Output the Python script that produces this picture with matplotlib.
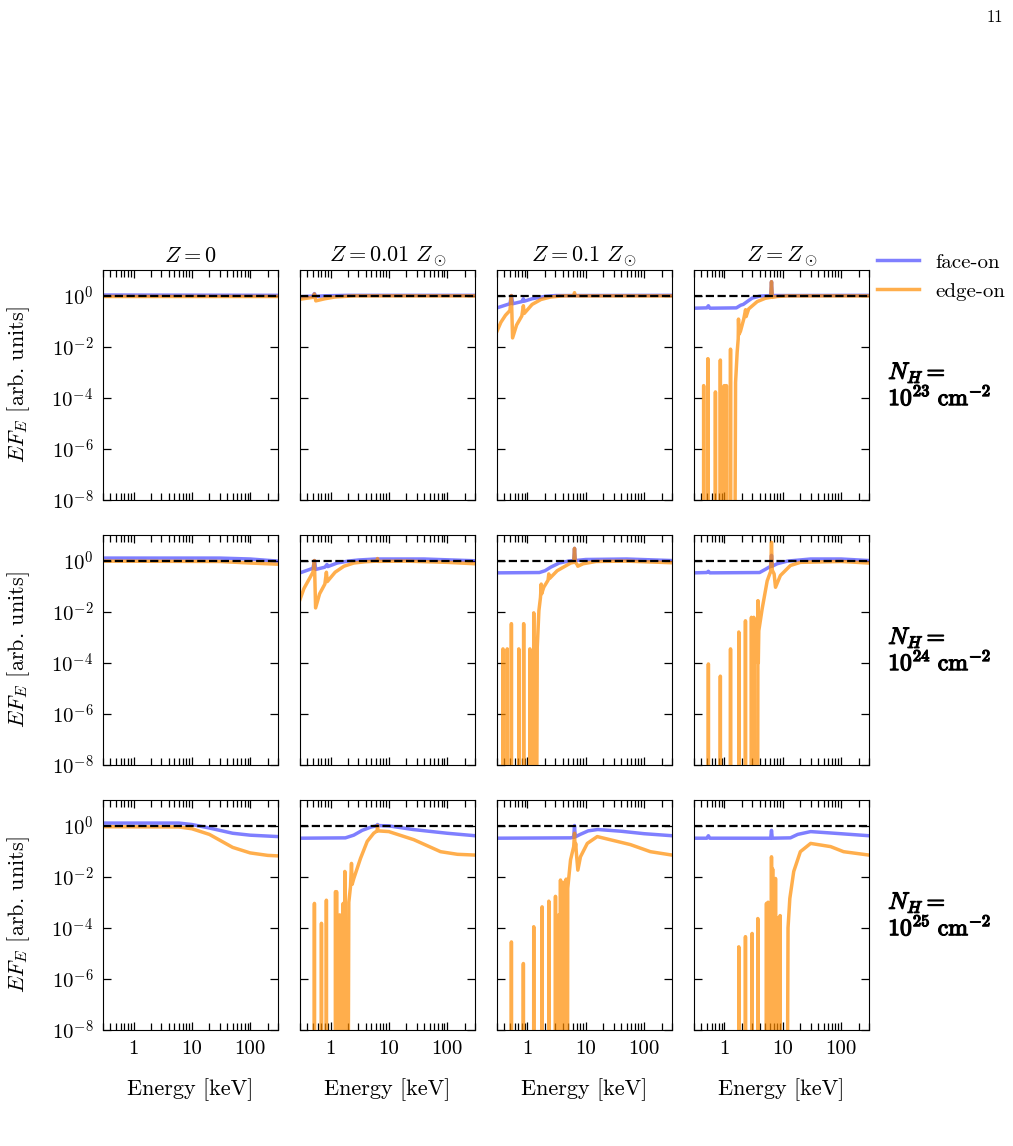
import matplotlib
matplotlib.use('Agg')  # sem janela, so salva o arquivo
import matplotlib.pyplot as plt
import matplotlib.ticker as ticker
import matplotlib.patheffects as pe
import numpy as np

plt.rcParams['font.family'] = 'serif'
plt.rcParams['font.serif'] = ['cmr10']
plt.rcParams['mathtext.fontset'] = 'cm'
plt.rcParams['axes.unicode_minus'] = False
plt.rcParams['axes.formatter.use_mathtext'] = True

# --- rotulos ---
titulos_z = [r'$Z = 0$', r'$Z = 0.01\ Z_\odot$', r'$Z = 0.1\ Z_\odot$', r'$Z = Z_\odot$']
expoentes_nh = ['23', '24', '25']
x_ticks = [1, 10, 100]
x_tick_labels = ['1', '10', '100']
y_ticks = [1e-8, 1e-6, 1e-4, 1e-2, 1e0]
y_tick_labels = [r'$10^{-8}$', r'$10^{-6}$', r'$10^{-4}$', r'$10^{-2}$', r'$10^{0}$']
FUNDO = 1e-12  # valor abaixo do eixo (linha some por baixo)

# --- dados: (energia keV, E F_E) ---
# N_H = 1e23
face_23_z0 = [(0.3, 1.05), (300, 1.02)]
edge_23_z0 = [(0.3, 0.97), (300, 0.97)]
linhas_23_z0 = []

face_23_z001 = [(0.3, 0.9), (0.5, 0.95), (0.53, 1.2), (0.56, 0.93), (0.8, 0.98), (2, 1.02), (300, 1.02)]
edge_23_z001 = [(0.3, 0.72), (0.5, 0.85), (0.53, 1.15), (0.56, 0.62), (0.8, 0.75), (1.2, 0.88),
                (2.5, 0.97), (300, 0.97)]
linhas_23_z001 = []

face_23_z01 = [(0.3, 0.33), (0.5, 0.48), (0.53, 1.0), (0.56, 0.48), (0.8, 0.58), (0.85, 0.75),
               (0.88, 0.6), (1.2, 0.75), (2, 0.93), (3, 1.0), (300, 1.02)]
edge_23_z01 = [(0.3, 0.04), (0.35, 0.09), (0.42, 0.17), (0.5, 0.26), (0.53, 1.0), (0.555, 0.022),
               (0.65, 0.07), (0.8, 0.16), (0.85, 0.4), (0.88, 0.2), (1.2, 0.45), (1.7, 0.7),
               (2.5, 0.88), (4, 0.97), (6.2, 0.98), (6.4, 1.3), (6.6, 0.97), (300, 0.97)]
linhas_23_z01 = []

face_23_z1 = [(0.3, 0.32), (0.5, 0.33), (0.53, 0.4), (0.56, 0.32), (1.6, 0.33), (1.9, 0.42),
              (2.1, 0.45), (2.5, 0.6), (3, 0.8), (4, 0.95), (6.2, 1.0), (6.4, 3.5), (6.6, 1.0),
              (300, 1.02)]
edge_23_z1 = [(1.5, FUNDO), (1.55, 4e-4), (1.65, 6e-3), (1.72, 0.02), (1.74, 0.12), (1.77, 0.03),
              (1.88, 0.04), (2.14, 0.12), (2.3, 0.28), (2.35, 0.15), (2.6, 0.3), (3.64, 0.58),
              (5, 0.78), (6.2, 0.85), (6.4, 3.5), (6.6, 0.85), (8, 0.92), (12, 0.97), (300, 0.97)]
linhas_23_z1 = [(0.44, 3e-4), (0.52, 3.4e-3), (0.70, 1.7e-4), (0.85, 3e-3), (0.99, 3e-4),
                (1.08, 3e-4), (1.27, 8e-3)]

# N_H = 1e24
face_24_z0 = [(0.3, 1.25), (30, 1.25), (100, 1.15), (300, 0.95)]
edge_24_z0 = [(0.3, 0.95), (30, 0.92), (100, 0.8), (300, 0.72)]
linhas_24_z0 = []

face_24_z001 = [(0.3, 0.33), (0.5, 0.5), (0.53, 1.0), (0.56, 0.45), (0.8, 0.55), (0.87, 0.7),
                (0.9, 0.58), (1.3, 0.8), (2, 0.95), (3, 1.05), (6, 1.15), (40, 1.15), (300, 0.98)]
edge_24_z001 = [(0.3, 0.03), (0.35, 0.08), (0.42, 0.17), (0.5, 0.35), (0.53, 1.0), (0.555, 0.014),
                (0.65, 0.05), (0.8, 0.12), (0.85, 0.35), (0.88, 0.15), (1.2, 0.35), (1.7, 0.6),
                (2.5, 0.8), (4, 0.9), (6.2, 0.95), (6.4, 1.2), (6.6, 0.93), (20, 0.95),
                (100, 0.85), (300, 0.75)]
linhas_24_z001 = []

face_24_z01 = [(0.3, 0.33), (1.6, 0.34), (2, 0.4), (2.5, 0.55), (3.5, 0.8), (5, 0.95), (6.2, 1.0),
               (6.4, 3.0), (6.6, 1.0), (10, 1.1), (50, 1.15), (300, 1.0)]
edge_24_z01 = [(1.43, FUNDO), (1.47, 4e-4), (1.57, 0.011), (1.67, 0.036), (1.72, 0.12), (1.75, 0.05),
               (1.9, 0.09), (2.25, 0.17), (2.32, 0.3), (2.4, 0.2), (3.23, 0.4), (5.5, 0.8),
               (6.2, 0.85), (6.4, 3.0), (6.6, 0.85), (7.1, 0.7), (7.3, 0.6), (9, 0.75), (15, 0.92),
               (50, 0.95), (300, 0.82)]
linhas_24_z01 = [(0.38, 3.5e-4), (0.45, 3.5e-4), (0.53, 3.4e-3), (0.71, 3.5e-4), (0.86, 3.4e-3),
                 (1.1, 3.5e-4), (1.28, 9e-3)]

face_24_z1 = [(0.3, 0.33), (0.5, 0.34), (0.53, 0.38), (0.56, 0.33), (4, 0.34), (5, 0.45),
              (6.2, 0.6), (6.4, 1.6), (6.6, 0.6), (8, 0.75), (12, 0.95), (30, 1.15), (100, 1.15),
              (300, 1.0)]
edge_24_z1 = [(3.7, FUNDO), (3.75, 0.027), (3.8, 1e-4), (3.88, 1.8e-3), (4.43, 0.013), (5.4, 0.16),
              (6.2, 0.38), (6.4, 5.2), (6.6, 0.42), (7.1, 0.3), (7.5, 0.09), (9.1, 0.26),
              (13.5, 0.64), (20, 0.85), (100, 0.92), (300, 0.8)]
linhas_24_z1 = [(0.53, 9e-5), (0.85, 3e-5), (1.27, 3.5e-4), (1.76, 1.6e-3), (2.29, 4.4e-3),
                (2.9, 6e-3), (3.18, 6e-3)]

# N_H = 1e25
face_25_z0 = [(0.3, 1.25), (6, 1.25), (10, 1.1), (20, 0.8), (50, 0.5), (100, 0.42), (300, 0.37)]
edge_25_z0 = [(0.3, 0.9), (6, 0.88), (10, 0.75), (20, 0.45), (50, 0.14), (100, 0.085),
              (200, 0.068), (300, 0.065)]
linhas_25_z0 = []

face_25_z001 = [(0.3, 0.32), (1.8, 0.33), (2.5, 0.42), (3.5, 0.65), (5, 0.88), (6.2, 0.98),
                (6.4, 1.1), (6.6, 1.0), (10, 0.97), (26, 0.7), (100, 0.5), (300, 0.4)]
edge_25_z001 = [(2.0, FUNDO), (2.06, 1e-3), (2.2, 4e-3), (2.29, 0.033), (2.35, 5e-3), (2.51, 8.5e-3),
                (3.27, 0.052), (4.26, 0.24), (5.5, 0.5), (6.3, 0.62), (6.4, 1.0), (6.5, 0.62),
                (10, 0.58), (26.8, 0.28), (77, 0.095), (150, 0.075), (300, 0.07)]
linhas_25_z001 = [(0.53, 9e-4), (0.70, 1.5e-4), (0.85, 1.2e-3), (1.22, 2.6e-3), (1.27, 2.6e-3),
                  (1.44, 3.2e-4), (1.65, 9e-4), (1.76, 0.016)]

face_25_z01 = [(0.3, 0.32), (5.5, 0.33), (6.2, 0.35), (6.4, 1.0), (6.6, 0.36), (8, 0.45),
               (11, 0.62), (16, 0.7), (40, 0.6), (100, 0.48), (300, 0.4)]
edge_25_z01 = [(4.85, FUNDO), (4.9, 3.5e-3), (5.47, 0.045), (6.2, 0.15), (6.4, 0.5), (6.55, 0.12),
               (6.7, 0.2), (6.9, 0.08), (7.3, 0.018), (8.1, 0.06), (10.6, 0.2), (15.7, 0.37),
               (58, 0.18), (128, 0.095), (300, 0.07)]
linhas_25_z01 = [(0.53, 2.8e-5), (0.85, 4e-6), (1.28, 1.1e-4), (1.78, 6.6e-4), (2.32, 1.1e-3),
                 (3.02, 1.7e-3), (3.44, 3.2e-4), (3.68, 7.4e-3), (4.1, 6e-3), (4.35, 4e-3),
                 (4.6, 8e-3)]

face_25_z1 = [(0.3, 0.32), (0.5, 0.32), (0.53, 0.4), (0.56, 0.32), (6.2, 0.32), (6.4, 0.65),
              (6.6, 0.32), (13.5, 0.33), (18, 0.45), (30, 0.58), (60, 0.52), (300, 0.4)]
edge_25_z1 = [(11.9, FUNDO), (12.3, 1e-4), (13.2, 1.4e-3), (15.4, 0.016), (20, 0.095), (30, 0.2),
              (66, 0.15), (110, 0.095), (300, 0.07)]
linhas_25_z1 = [(1.76, 1.8e-5), (2.29, 4.5e-5), (2.98, 6e-5), (3.73, 2.3e-4), (5.25, 9e-4),
                (5.6, 1e-3), (6.4, 0.06), (6.7, 0.02), (7.5, 8.5e-3), (8.2, 2.4e-4), (9.0, 3e-4)]

face_on = [[face_23_z0, face_23_z001, face_23_z01, face_23_z1],
           [face_24_z0, face_24_z001, face_24_z01, face_24_z1],
           [face_25_z0, face_25_z001, face_25_z01, face_25_z1]]
edge_on = [[edge_23_z0, edge_23_z001, edge_23_z01, edge_23_z1],
           [edge_24_z0, edge_24_z001, edge_24_z01, edge_24_z1],
           [edge_25_z0, edge_25_z001, edge_25_z01, edge_25_z1]]
linhas_edge = [[linhas_23_z0, linhas_23_z001, linhas_23_z01, linhas_23_z1],
               [linhas_24_z0, linhas_24_z001, linhas_24_z01, linhas_24_z1],
               [linhas_25_z0, linhas_25_z001, linhas_25_z01, linhas_25_z1]]


def espectro(continuo, linhas=()):
    # junta o continuo com as linhas estreitas (picos que saem do fundo)
    pts = list(continuo)
    for e, pico in linhas:
        pts += [(e * 0.996, FUNDO), (e, pico), (e * 1.004, FUNDO)]
    pts.sort()
    arr = np.array(pts)
    return arr[:, 0], arr[:, 1]


fig, axes = plt.subplots(3, 4, figsize=(10.13, 11.46), dpi=100)
fig.subplots_adjust(left=0.1017, right=0.8578, bottom=0.1012, top=0.7644, wspace=0.1257, hspace=0.152)

negrito = [pe.withStroke(linewidth=0.9, foreground='black')]  # engrossa o texto (imita negrito)

for i in range(3):
    for j in range(4):
        ax = axes[i, j]
        e, f = espectro(face_on[i][j])
        ax.plot(e, f, color='blue', alpha=0.5, lw=2.5, label='face-on')
        e, f = espectro(edge_on[i][j], linhas_edge[i][j])
        ax.plot(e, f, color='darkorange', alpha=0.7, lw=2.5, label='edge-on')
        ax.axhline(1.0, color='black', ls='--', lw=1.6)

        ax.set_xscale('log')
        ax.set_yscale('log')
        ax.set_xlim(0.3, 300)
        ax.set_ylim(1e-8, 10)
        ax.set_xticks(x_ticks)
        ax.xaxis.set_minor_locator(ticker.LogLocator(base=10, subs=np.arange(2, 10)))
        ax.xaxis.set_minor_formatter(ticker.NullFormatter())
        ax.set_yticks(y_ticks)
        ax.yaxis.set_minor_locator(ticker.NullLocator())
        ax.tick_params(which='both', direction='in', top=True, right=True, width=0.9)
        ax.tick_params(which='major', length=6, labelsize=15, pad=7)
        ax.tick_params(which='minor', length=5)

        if i == 2:
            ax.set_xticklabels(x_tick_labels)
            ax.set_xlabel('Energy [keV]', fontsize=16, labelpad=15)
        else:
            ax.set_xticklabels([])
        if j == 0:
            ax.set_yticklabels(y_tick_labels)
            ax.set_ylabel(r'$EF_E$ [arb. units]', fontsize=16, labelpad=14)
        else:
            ax.set_yticklabels([])
        if i == 0:
            ax.set_title(titulos_z[j], fontsize=16, pad=6)
        if j == 3:
            ax.text(1.11, 0.5, r'$N_H =$' + '\n' + r'$10^{' + expoentes_nh[i] + r'}\ \mathrm{cm}^{-2}$',
                    transform=ax.transAxes, ha='left', va='center', fontsize=17, linespacing=1.0,
                    path_effects=negrito)

axes[0, 3].legend(loc='upper left', bbox_to_anchor=(1.0, 1.11), frameon=False, fontsize=15,
                  handlelength=2.0, handletextpad=0.8, borderaxespad=0, labelspacing=0.5)

fig.text(0.982, 0.985, '11', ha='center', va='center', fontsize=12)

plt.savefig('out.png', dpi=100)
